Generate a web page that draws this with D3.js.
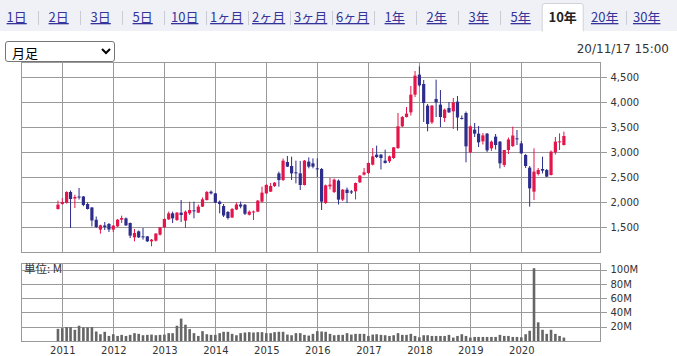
<!DOCTYPE html>
<html><head><meta charset="utf-8">
<script src="https://cdn.jsdelivr.net/npm/d3@7"></script>
<style>
html,body{margin:0;padding:0;background:#fff;}
#wrap{position:relative;width:677px;height:356px;overflow:hidden;}
svg{position:absolute;left:0;top:0;}
#sel{position:absolute;left:5px;top:41px;width:110px;height:21px;font-family:"Noto Sans CJK JP",sans-serif;font-size:13px;color:#000;background:#fff;border:1px solid #767676;border-radius:3px;padding:0 2px;}
</style></head>
<body><div id="wrap"><svg id="chart" width="677" height="356"></svg>
<select id="sel"><option>月足</option></select></div>
<script>
// ---------- data ----------
const tabLabels = ["1日","2日","3日","5日","10日","1ヶ月","2ヶ月","3ヶ月","6ヶ月","1年","2年","3年","5年","10年","20年","30年"];
const activeTab = "10年";
const stampText = "20/11/17 15:00";
const unitText = "単位: M";
const months = [
 "2010-12",
 "2011-01","2011-02","2011-03","2011-04","2011-05","2011-06","2011-07","2011-08","2011-09","2011-10","2011-11","2011-12",
 "2012-01","2012-02","2012-03","2012-04","2012-05","2012-06","2012-07","2012-08","2012-09","2012-10","2012-11","2012-12",
 "2013-01","2013-02","2013-03","2013-04","2013-05","2013-06","2013-07","2013-08","2013-09","2013-10","2013-11","2013-12",
 "2014-01","2014-02","2014-03","2014-04","2014-05","2014-06","2014-07","2014-08","2014-09","2014-10","2014-11","2014-12",
 "2015-01","2015-02","2015-03","2015-04","2015-05","2015-06","2015-07","2015-08","2015-09","2015-10","2015-11","2015-12",
 "2016-01","2016-02","2016-03","2016-04","2016-05","2016-06","2016-07","2016-08","2016-09","2016-10","2016-11","2016-12",
 "2017-01","2017-02","2017-03","2017-04","2017-05","2017-06","2017-07","2017-08","2017-09","2017-10","2017-11","2017-12",
 "2018-01","2018-02","2018-03","2018-04","2018-05","2018-06","2018-07","2018-08","2018-09","2018-10","2018-11","2018-12",
 "2019-01","2019-02","2019-03","2019-04","2019-05","2019-06","2019-07","2019-08","2019-09","2019-10","2019-11","2019-12",
 "2020-01","2020-02","2020-03","2020-04","2020-05","2020-06","2020-07","2020-08","2020-09","2020-10","2020-11"];
const openP = [1860,
 1960,1980,2200,2070,2110,2110,1960,1890,1645,1447,1530,1560,
 1447,1513,1647,1673,1580,1293,1413,1313,1313,1213,1227,1347,
 1493,1653,1773,1640,1787,1627,1773,1833,1787,1907,2040,2207,
 2173,2007,1920,1800,1690,1850,1950,1945,1745,1795,1807,2007,
 2173,2207,2320,2573,2440,2800,2720,2593,2573,2340,2807,2773,
 2673,2660,1980,2313,2200,2427,2047,2247,2213,2213,2393,2547,
 2580,2747,2947,2947,2827,2813,2880,3080,3513,3700,3793,4147,
 4547,4360,3927,3593,4060,3947,3680,3880,3813,4007,3680,3780,
 2993,3447,3367,3213,3367,3073,3307,3207,2740,3040,3120,3273,
 3173,2940,2687,2207,2560,2660,2640,2540,2993,3200,3140];
const highP = [2027,
 2080,2215,2230,2145,2280,2120,1990,1900,1710,1545,1600,1580,
 1540,1660,1727,1690,1590,1460,1430,1480,1320,1260,1380,1500,
 1670,1807,1807,1800,2040,1830,2007,2007,1950,2090,2220,2230,
 2180,2030,1960,1820,1880,1990,2007,1960,1830,1830,2040,2307,
 2360,2380,2400,2607,2870,2920,2907,2827,2820,2840,2893,2873,
 2873,2680,2350,2480,2470,2450,2260,2290,2240,2390,2540,2680,
 2790,3080,3127,2960,3047,2930,3100,3780,3720,3900,4320,4620,
 4713,4440,3960,3940,4447,4240,3870,4000,4080,4120,3730,3810,
 3530,3580,3520,3380,3380,3230,3360,3220,3000,3290,3507,3440,
 3220,2960,2720,3073,2680,2907,2660,3030,3300,3373,3407];
const lowP = [1847,
 1947,1970,1480,1880,2050,1915,1850,1510,1480,1367,1440,1400,
 1400,1500,1580,1520,1280,1213,1280,1247,1200,1113,1210,1330,
 1480,1640,1580,1620,1600,1480,1740,1673,1780,1900,2030,2150,
 1980,1773,1700,1650,1680,1840,1873,1740,1730,1640,1800,1987,
 2160,2200,2300,2307,2420,2700,2440,2373,2240,2330,2673,2673,
 2500,1840,1960,2250,2180,1950,2020,1980,2160,2050,2380,2530,
 2560,2730,2880,2650,2770,2780,2860,3060,3500,3690,3730,4100,
 4310,3600,3413,3560,3700,3500,3600,3780,3460,3430,3650,2793,
 2980,3300,3100,3150,3000,3020,3050,2673,2700,2960,3100,3140,
 2960,2680,1907,2040,2530,2573,2500,2530,2950,3040,3130];
const closeP = [1947,
 2000,2200,2060,2100,2095,1940,1860,1630,1500,1533,1500,1450,
 1527,1647,1680,1533,1327,1380,1293,1293,1213,1247,1367,1493,
 1660,1773,1673,1787,1740,1807,1840,1813,1907,2053,2200,2173,
 1987,1960,1730,1680,1860,1950,1910,1765,1807,1810,2027,2187,
 2340,2320,2387,2440,2827,2707,2573,2573,2340,2827,2707,2707,
 2653,2007,2333,2347,2447,2047,2247,2180,2190,2380,2527,2593,
 2780,2913,2900,2880,2780,2913,3093,3513,3700,3767,4147,4527,
 4333,3980,3560,3927,3993,3700,3847,3793,3993,3690,3660,3113,
 3513,3367,3193,3333,3033,3207,3140,2773,3040,3250,3330,3253,
 2973,2720,2273,2607,2640,2627,2507,3007,3207,3213,3320];
const volumeM = [17,
 18,19.5,19.5,15.7,21.4,19,19,19.5,13.3,9.5,12.9,7.1,
 9.5,7.1,8.6,7.1,8.6,11,10,8.1,8.6,9,8.1,8.6,
 9,11,11,21.4,31.4,22.8,16.7,11,7.1,13.8,9.5,8.6,
 8.6,11,12.9,12.9,10,8.1,11,11.9,12.4,11.9,12.4,12.4,
 11,11,12.4,12.9,12.9,9,8.1,11,11,8.6,7.6,10,
 13.8,13.3,12.9,10,8.1,8.6,8.6,11,9,10,10,10,
 7.1,9,9.5,8.6,8.1,7.1,8.1,11,8.6,8.6,10,7.1,
 5.2,8.1,8.1,7.1,7.1,7.1,7.1,8.6,4.8,7.1,9.5,7.1,
 4.8,5.7,5.7,5.7,5.7,5.7,5.7,8.6,7.1,7.1,5.7,5.7,
 5.2,9.5,14.3,102,26.2,15.7,10,15.7,10,7.1,4.8];
const priceTicks = [1500,2000,2500,3000,3500,4000,4500];
const volumeTicks = [20,40,60,80,100];
const yearTicks = ["2011","2012","2013","2014","2015","2016","2017","2018","2019","2020"];

// ---------- drawing ----------
const svg = d3.select("#chart");
const FONT_NUM = "'DejaVu Sans', Verdana, sans-serif";
const FONT_JP = "'Noto Sans CJK JP', sans-serif";
const UP = "#e3154a", DOWN = "#2d2d8c", GRID = "#9a9a9a";

// tab bar
svg.append("rect").attr("x",0).attr("y",0).attr("width",677).attr("height",31).attr("fill","#eff1f7");
const tabX = d3.scaleLinear().domain([0,1]).range([-4.3,37.7]);
const ai = tabLabels.indexOf(activeTab);
svg.append("path")
  .attr("d",`M${tabX(ai)+0.5},31.5 L${tabX(ai)+0.5},6 Q${tabX(ai)+0.5},3.5 ${tabX(ai)+3},3.5 L${tabX(ai+1)-2.5},3.5 Q${tabX(ai+1)-0.5},3.5 ${tabX(ai+1)-0.5},6 L${tabX(ai+1)-0.5},31.5`)
  .attr("fill","#fff").attr("stroke","#cfd2da");
svg.append("rect").attr("x",tabX(ai)+1).attr("y",30).attr("width",tabX(ai+1)-tabX(ai)-2).attr("height",3).attr("fill","#fff");
tabLabels.forEach((t,i)=>{
  if(i>0 && i!==ai && i!==ai+1){
    svg.append("line").attr("x1",Math.round(tabX(i))+0.5).attr("x2",Math.round(tabX(i))+0.5)
      .attr("y1",11).attr("y2",25).attr("stroke","#c9ccd4");
  }
  const tx = (tabX(i)+tabX(i+1))/2;
  const el = svg.append("text").attr("x",tx).attr("y",22).attr("text-anchor","middle")
    .attr("font-family",FONT_JP).attr("font-size",13).text(t);
  if(i===ai){ el.attr("font-weight","bold").attr("fill","#222"); }
  else { el.attr("fill","#34349a").style("text-decoration","underline"); }
});

// timestamp
svg.append("text").attr("x",669).attr("y",53).attr("text-anchor","end")
  .attr("font-family",FONT_NUM).attr("font-size",12).attr("fill","#333").text(stampText);

// scales
const parseM = d3.utcParse("%Y-%m");
const parseY = d3.utcParse("%Y");
const dates = months.map(parseM);
const x = d3.scaleUtc().domain([parseY("2011"), parseY("2020")]).range([62.3, 521.3]);
const L = 21.5, R = 600.5;
const yP = d3.scaleLinear().domain([1000,4800]).range([252,62]);
const yV = d3.scaleLinear().domain([0,110]).range([341,262.5]);
const snap = v => Math.round(v)+0.5;

function panel(y0,y1){
  const g = svg.append("g");
  yearTicks.forEach(yr=>{
    const xx = snap(x(parseY(yr)));
    g.append("line").attr("x1",xx).attr("x2",xx).attr("y1",y0).attr("y2",y1).attr("stroke",GRID);
  });
  g.append("rect").attr("x",L).attr("y",y0).attr("width",R-L).attr("height",y1-y0)
    .attr("fill","none").attr("stroke",GRID);
  return g;
}
// price panel
const gp = panel(snap(yP(4800)), snap(yP(1000)));
priceTicks.forEach(p=>{
  gp.append("line").attr("x1",L).attr("x2",R).attr("y1",snap(yP(p))).attr("y2",snap(yP(p))).attr("stroke",GRID);
});
const axP = svg.append("g").attr("transform",`translate(${R},0)`)
  .call(d3.axisRight(yP).tickValues(priceTicks).tickFormat(d3.format(",")).tickSize(6).tickPadding(4));
// volume panel
const gv = panel(snap(yV(110)), snap(yV(0)));
volumeTicks.forEach(v=>{
  gv.append("line").attr("x1",L).attr("x2",R).attr("y1",snap(yV(v))).attr("y2",snap(yV(v))).attr("stroke",GRID);
});
const axV = svg.append("g").attr("transform",`translate(${R},0)`)
  .call(d3.axisRight(yV).tickValues(volumeTicks).tickFormat(d=>d+"M").tickSize(6).tickPadding(4));
const axX = svg.append("g").attr("transform",`translate(0,${snap(yV(0))})`)
  .call(d3.axisBottom(x).tickValues(yearTicks.map(parseY)).tickFormat(d3.utcFormat("%Y")).tickSize(0).tickPadding(5));
[axP,axV,axX].forEach(a=>{
  a.select(".domain").remove();
  a.selectAll(".tick line").attr("stroke",GRID).attr("shape-rendering","crispEdges");
  a.selectAll("text").attr("font-family",FONT_NUM).attr("font-size",10).attr("fill","#333");
});
svg.selectAll("line").attr("shape-rendering","crispEdges");
svg.selectAll("rect").attr("shape-rendering","crispEdges");

// unit label
svg.append("text").attr("x",24).attr("y",273).attr("font-family",FONT_JP).attr("font-size",11.5)
  .attr("fill","#333").text(unitText);

// volume bars
svg.append("g").selectAll("rect").data(d3.range(months.length)).join("rect")
  .attr("x",i=>x(dates[i])-1.3).attr("width",2.6)
  .attr("y",i=>yV(volumeM[i])).attr("height",i=>yV(0)-yV(volumeM[i]))
  .attr("fill","#666");

// candles
const gc = svg.append("g");
d3.range(months.length).forEach(i=>{
  const cx = x(dates[i]);
  const up = closeP[i] >= openP[i];
  const col = up ? UP : DOWN;
  gc.append("line").attr("x1",cx).attr("x2",cx).attr("y1",yP(highP[i])).attr("y2",yP(lowP[i]))
    .attr("stroke",col).attr("stroke-width",1);
  const top = yP(Math.max(openP[i],closeP[i])), bot = yP(Math.min(openP[i],closeP[i]));
  gc.append("rect").attr("x",cx-1.6).attr("width",3.2).attr("y",top).attr("height",Math.max(1,bot-top)).attr("fill",col);
});
</script></body></html>
